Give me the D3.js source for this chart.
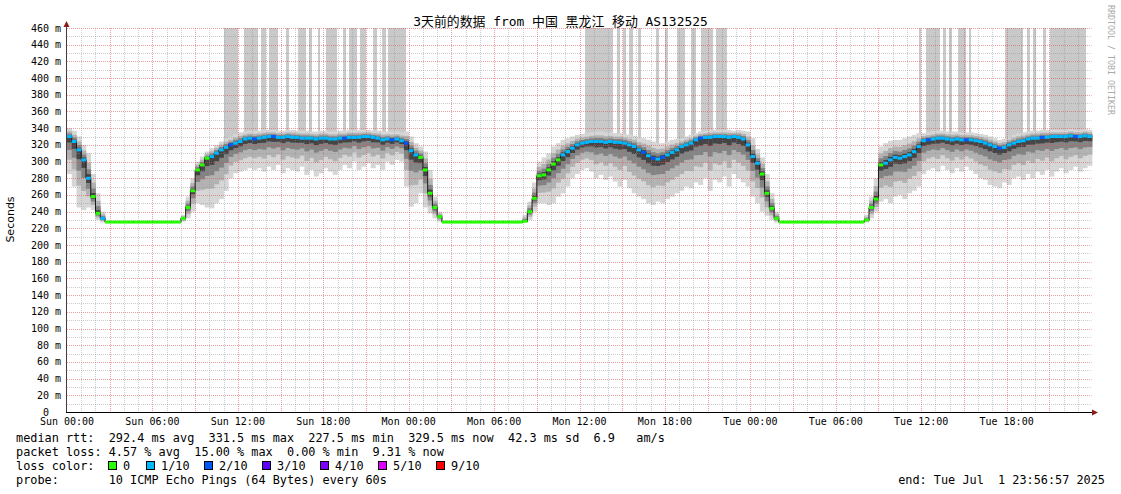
<!DOCTYPE html>
<html><head><meta charset="utf-8">
<script src="https://cdn.jsdelivr.net/npm/d3@7"></script>
<style>
html,body{margin:0;padding:0;background:#fff;}
svg{display:block;}
text{font-family:"DejaVu Sans Mono","Noto Sans CJK SC",monospace;white-space:pre;}
</style></head><body>
<svg id="c" width="1121" height="494"></svg>
<script>
// ---------- data ----------
const title = "3天前的数据 from 中国 黑龙江 移动 AS132525";
const startTime = Date.UTC(2025,5,28,23,56,57);
const endTime   = Date.UTC(2025,6,1,23,56,57);
const sampleStart = Date.UTC(2025,5,29,0,0,0);   // Sun 00:00
const sampleMinutes = 20;

// median RTT per 20-minute sample (ms)
const median = [
330,324,314,302,280,258,238,232,
227.5,227.5,227.5,227.5,227.5,227.5,227.5,227.5,227.5,227.5,227.5,227.5,227.5,227.5,227.5,227.5,
232,245,265,290,296,304,306,310,314,317,320,322,324,327,328,
327,328,329,330,330,329,329,330,329,329,328,328,328,327,328,328,327,327,328,328,329,329,329,330,330,329,328,326,327,326,327,325,
322,313,308,305,290,262,245,234,
227.5,227.5,227.5,227.5,227.5,227.5,227.5,227.5,227.5,227.5,227.5,227.5,227.5,227.5,227.5,227.5,227.5,
228.5,240,256,283,284,290,297,302,308,312,316,320,322,
323,324,324,324,323,324,323,323,322,320,318,314,311,307,304,303,305,308,311,314,318,320,322,326,328,329,329,330,330,330,329,330,329,327,
320,306,298,285,262,244,232,
227.5,227.5,227.5,227.5,227.5,227.5,227.5,227.5,227.5,227.5,227.5,227.5,227.5,227.5,227.5,227.5,227.5,227.5,
230,245,255,296,298,302,305,304,306,308,312,318,
325,326,327,328,328,327,326,327,326,326,326,325,324,322,320,318,316,317,320,322,324,325,327,328,328,329,329,330,330,330,330,331,330,330,331,330
];
// lost pings out of 10 per sample
const loss = [
1,1,1,1,1,0,0,1,
0,0,0,0,0,0,0,0,0,0,0,0,0,0,0,0,
0,0,0,0,0,0,1,1,1,1,2,1,1,1,1,
2,1,1,1,2,1,1,1,1,1,1,1,1,1,1,1,1,1,1,2,1,1,1,1,1,1,1,1,1,2,1,1,
2,1,1,0,0,0,0,0,
0,0,0,0,0,0,0,0,0,0,0,0,0,0,0,0,0,
0,0,0,0,0,0,0,0,1,1,1,1,1,
1,1,1,1,1,1,1,1,1,1,1,1,2,1,2,1,2,1,1,1,1,1,1,1,2,1,1,1,1,1,1,1,1,1,
1,1,1,0,0,0,0,
0,0,0,0,0,0,0,0,0,0,0,0,0,0,0,0,0,0,
0,0,0,0,1,1,1,1,1,1,1,1,
1,2,1,1,1,1,1,1,1,2,1,1,1,1,1,1,2,1,1,1,1,1,1,1,1,2,1,1,1,1,1,1,2,1,1,1
];
// lowest ping per sample (ms)
const pingLo = [
285,270,245,242,245,242,230,227,
226.5,226.5,226.5,226.5,226.5,226.5,226.5,226.5,226.5,226.5,226.5,226.5,226.5,226.5,226.5,226.5,
228,232,240,250,248,245,244,250,255,265,280,286,288,290,292,
290,292,288,294,290,296,286,292,290,288,294,284,290,282,286,292,288,284,290,296,292,300,290,294,298,292,296,290,300,296,302,300,
270,246,250,262,245,238,232,228,
226.5,226.5,226.5,226.5,226.5,226.5,226.5,226.5,226.5,226.5,226.5,226.5,226.5,226.5,226.5,226.5,226.5,
227,230,240,250,250,248,250,258,262,270,280,285,290,
292,288,280,284,278,282,276,270,278,268,262,258,255,250,248,252,250,255,258,262,265,270,268,275,272,280,265,278,275,282,270,285,280,275,
270,258,250,240,235,230,227,
226.5,226.5,226.5,226.5,226.5,226.5,226.5,226.5,226.5,226.5,226.5,226.5,226.5,226.5,226.5,226.5,226.5,226.5,
227,232,240,252,255,250,258,260,255,262,265,270,
285,290,292,288,295,290,286,292,288,294,290,285,280,278,272,270,268,275,272,280,282,278,285,280,288,284,290,282,288,292,286,290,294,288,292,295
];
// highest ping per sample (ms)
const pingHi = [
340,337,330,320,310,285,262,240,
229,229,229,229,229,229,229,229,229,229,229,229,229,229,229,229,
236,258,280,300,306,312,316,320,324,328,330,333,335,336,337,
337,337,338,338,338,337,337,338,338,337,337,337,336,336,337,337,336,336,337,337,338,338,338,338,338,337,337,336,336,336,336,335,
336,330,322,318,312,290,258,240,
229,229,229,229,229,229,229,229,229,229,229,229,229,229,229,229,229,
236,252,275,300,305,310,318,322,326,328,330,332,333,
334,335,336,336,335,335,334,334,333,332,331,329,328,326,324,322,322,324,326,327,328,330,332,334,336,337,338,338,338,338,338,337,338,337,
336,328,315,305,285,262,240,
229,229,229,229,229,229,229,229,229,229,229,229,229,229,229,229,229,229,
236,258,280,318,322,325,326,326,328,330,332,334,
334,335,336,337,337,336,336,336,335,335,335,334,333,332,330,328,326,327,330,332,334,335,336,337,337,338,338,338,338,338,338,339,338,338,339,338
];
// periods (hours after Sun 00:00) where pings went off the top of the graph
const spikeHours = [
[11.03,12.01],[12.43,13.42],[13.63,13.98],[14.19,14.82],[15.38,15.59],[16.23,16.79],[17.0,17.21],[17.63,17.77],[18.19,18.97],[19.39,19.6],[19.81,20.37],[20.58,21.0],[21.5,21.78],[22.13,22.41],[22.55,23.81],
[36.39,38.35],[38.63,38.85],[39.06,39.27],[39.48,39.76],[40.11,40.32],[41.37,41.58],[42.0,42.21],[42.85,43.41],[43.83,44.18],[44.53,45.38],[45.59,46.36],
[59.85,59.99],[60.34,61.32],[61.53,61.74],[61.95,62.16],[62.59,63.15],[63.36,63.5],[65.89,67.15],[67.43,67.64],[67.85,68.07],[68.56,68.77],[69.05,71.58]
];
const yTicks = [0,20,40,60,80,100,120,140,160,180,200,220,240,260,280,300,320,340,360,380,400,420,440,460];
const lossLabels = ["0","1/10","2/10","3/10","4/10","5/10","9/10"];
const lossColors = ["#26ff00","#00b8ff","#0059ff","#5e00ff","#7e00ff","#dd00ff","#ff0000"];
const legend1 = "median rtt:  292.4 ms avg  331.5 ms max  227.5 ms min  329.5 ms now  42.3 ms sd  6.9   am/s";
const legend2 = "packet loss: 4.57 % avg  15.00 % max  0.00 % min  9.31 % now";
const legend3 = "loss color:";
const legend4 = "probe:       10 ICMP Echo Pings (64 Bytes) every 60s";
const endText = "end: Tue Jul  1 23:56:57 2025";
const watermark = "RRDTOOL / TOBI OETIKER";
const yLabel = "Seconds";

// ---------- drawing ----------
const svg = d3.select("#c");
const x = d3.scaleUtc().domain([startTime,endTime]).range([66.3,1091.3]);
const y = d3.scaleLinear().domain([0,460]).range([412,28]);
const step = sampleMinutes*60000;
const t0 = i => sampleStart + i*step;
const lossIdx = n => n===0?0:n===1?1:n===2?2:n===3?3:n===4?4:n<9?5:6;

// spike columns
svg.append("g").selectAll("rect").data(spikeHours).join("rect")
  .attr("x", d=>x(sampleStart+d[0]*3600000))
  .attr("width", d=>x(sampleStart+d[1]*3600000)-x(sampleStart+d[0]*3600000))
  .attr("y", y(460))
  .attr("height", d=>y(median[Math.min(median.length-1,Math.floor(d[0]*3))])-y(460))
  .attr("fill","#c9c9c9");

// smoke bands
const fracs = [1,0.62,0.36,0.16];
const shades = ["#d6d6d6","#b2b2b2","#838383","#454545"];
fracs.forEach((f,k)=>{
  svg.append("g").selectAll("rect").data(median).join("rect")
    .attr("x",(d,i)=>x(t0(i)))
    .attr("width",(d,i)=>x(t0(i+1))-x(t0(i))+0.3)
    .attr("y",(d,i)=>y(d+f*(pingHi[i]-d)))
    .attr("height",(d,i)=>y(d-f*(d-pingLo[i]))-y(d+f*(pingHi[i]-d)))
    .attr("fill",shades[k]);
});

// grid
const gGrid = svg.append("g");
const xMin = 67, xMax = 1091.5;
d3.range(0,461,10).forEach(v=>{
  if (v===0) return;
  gGrid.append("line").attr("x1",xMin).attr("x2",xMax).attr("y1",Math.round(y(v))+0.5).attr("y2",Math.round(y(v))+0.5)
    .attr("stroke", v%20===0 ? "rgba(222,80,80,0.55)" : "rgba(143,143,143,0.45)")
    .attr("stroke-dasharray","1,1");
});
d3.utcHour.every(1).range(startTime,endTime).forEach(t=>{
  const h = d3.utcHour.count(d3.utcDay.floor(t), t);
  const xp = Math.round(x(t))+0.5;
  if (xp < 68) return;
  gGrid.append("line").attr("x1",xp).attr("x2",xp).attr("y1",28).attr("y2",412)
    .attr("stroke", h%3===0 ? "rgba(222,80,80,0.55)" : "rgba(143,143,143,0.45)")
    .attr("stroke-dasharray","1,1");
});

// median line
const medPts = median.map((d,i)=>[t0(i),d]);
medPts.push([t0(median.length),median[median.length-1]]);
svg.append("path").datum(medPts)
  .attr("d", d3.line().x(d=>x(d[0])).y(d=>y(d[1])).curve(d3.curveStepAfter))
  .attr("fill","none").attr("stroke","#1a1a1a").attr("stroke-width",1);
svg.append("g").selectAll("rect").data(median).join("rect")
  .attr("x",(d,i)=>x(t0(i)))
  .attr("width",(d,i)=>x(t0(i+1))-x(t0(i)))
  .attr("y",d=>y(d)-1.5).attr("height",3)
  .attr("fill",(d,i)=>lossColors[lossIdx(loss[i])]);

// axes
svg.append("line").attr("x1",66.5).attr("x2",66.5).attr("y1",412).attr("y2",25).attr("stroke","#4a3838");
svg.append("line").attr("x1",66).attr("x2",1094).attr("y1",412.5).attr("y2",412.5).attr("stroke","#000");
svg.append("path").attr("d","M63.5,27 L69.5,27 L66.5,21 Z").attr("fill","#8b1a1a");
svg.append("path").attr("d","M1092,409.5 L1092,415.5 L1098,412.5 Z").attr("fill","#8b1a1a");

// y tick labels
svg.append("g").selectAll("text").data(yTicks).join("text")
  .attr("x",61).attr("y",d=>y(d)+3.5).attr("text-anchor","end")
  .attr("font-size","10px").attr("fill","#000")
  .text(d=> d===0 ? "0  " : d+" m");

// x tick labels
const fmt = d3.utcFormat("%a %H:%M");
svg.append("g").selectAll("text").data(d3.utcHour.every(6).range(startTime,endTime)).join("text")
  .attr("x",d=>x(d)).attr("y",425).attr("text-anchor","middle")
  .attr("font-size","10px").attr("fill","#000")
  .text(d=>fmt(d));

// title
svg.append("text").attr("x",560.5).attr("y",25.5).attr("text-anchor","middle")
  .attr("font-size","12.9px").attr("fill","#000").text(title);

// y label
svg.append("text").attr("transform","translate(14,219.5) rotate(-90)")
  .attr("text-anchor","middle").style("font-family","'DejaVu Sans',sans-serif")
  .attr("font-size","11px").attr("fill","#000").text(yLabel);

// watermark
svg.append("text").attr("transform","translate(1108,5) rotate(90)")
  .attr("font-size","8.3px").attr("fill","#aaaaaa").text(watermark);

// legend
const lg = svg.append("g").attr("font-size","11.85px").attr("fill","#000");
lg.append("text").attr("x",16).attr("y",441.5).text(legend1);
lg.append("text").attr("x",16).attr("y",455.5).text(legend2);
lg.append("text").attr("x",16).attr("y",469.5).text(legend3);
lg.append("text").attr("x",16).attr("y",483.5).text(legend4);
lg.append("text").attr("x",1105).attr("y",483.5).attr("text-anchor","end").text(endText);
const boxX = [108,146,204,262,320,378,436];
lossLabels.forEach((l,i)=>{
  lg.append("rect").attr("x",boxX[i]+0.5).attr("y",461.5).attr("width",8).attr("height",8)
    .attr("fill",lossColors[i]).attr("stroke","#000").attr("stroke-width",1);
  lg.append("text").attr("x",boxX[i]+15).attr("y",469.5).text(l);
});
</script>
</body></html>
